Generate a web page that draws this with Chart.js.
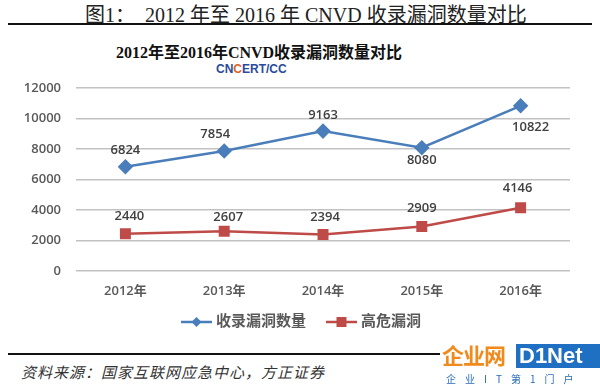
<!DOCTYPE html>
<html>
<head>
<meta charset="utf-8">
<script src="https://cdn.jsdelivr.net/npm/chart.js@4"></script>
<style>
  html, body { margin: 0; padding: 0; background: #fff; }
  #page { position: relative; width: 600px; height: 385px; overflow: hidden; }
  .abs { position: absolute; white-space: nowrap; }
  #head { left: 85px; top: -1px; font: 20px "Liberation Serif", "Noto Sans CJK SC", serif; color: #222; }
  #headLine { left: 8px; top: 23px; width: 584px; height: 2px; background: #111; }
  #title { left: 0; width: 518px; text-align: center; top: 39px; font: bold 16px "Liberation Serif", "Noto Sans CJK SC", serif; color: #111; }
  #logo { left: 216px; top: 62px; font: bold 12px "Liberation Sans", sans-serif; color: #2b4a9b; }
  #logo span { color: #e2631f; }
  #footLine { left: 8px; top: 353px; width: 584px; height: 2px; background: #111; }
  #source { left: 21px; top: 361px; font: italic 15px "Noto Sans CJK SC", sans-serif; color: #333; letter-spacing: 1px; }
  #wm { left: 440px; top: 340px; height: 31px; width: 160px; background: #fff; }
  #wm1 { left: 442px; top: 338px; font: bold 22px "Noto Sans CJK SC", sans-serif; color: #f08a1c; letter-spacing: -1px; }
  #wm2 { left: 516px; top: 344px; width: 84px; height: 24px; background: #1f6fc2; color: #fff; font: bold 22px "Liberation Sans", sans-serif; line-height: 24px; padding-left: 3px; }
  #wm3 { left: 446px; top: 371px; font: 10px "Noto Sans CJK SC", sans-serif; color: #2a6db8; letter-spacing: 9px; }
  #chart { position: absolute; left: 0; top: 65px; }
</style>
</head>
<body>
<div id="page">
  <div class="abs" id="head">图1：&nbsp;&nbsp;2012 年至 2016 年 CNVD 收录漏洞数量对比</div>
  <div class="abs" id="headLine"></div>
  <div class="abs" id="title">2012年至2016年CNVD收录漏洞数量对比</div>
  <div class="abs" id="logo">CN<span>C</span>ERT/CC</div>
  <canvas id="chart" width="600" height="280"></canvas>
  <div class="abs" id="footLine"></div>
  <div class="abs" id="source">资料来源：国家互联网应急中心，方正证券</div>
  <div class="abs" id="wm"></div>
  <div class="abs" id="wm1">企业网</div>
  <div class="abs" id="wm2">D1Net</div>
  <div class="abs" id="wm3">企业IT第1门户</div>
</div>
<script>
const years = ['2012年', '2013年', '2014年', '2015年', '2016年'];
const totalVulns = [6824, 7854, 9163, 8080, 10822];
const highRisk = [2440, 2607, 2394, 2909, 4146];
const seriesNames = ['收录漏洞数量', '高危漏洞'];
const yTicks = [0, 2000, 4000, 6000, 8000, 10000, 12000];

const blue = '#4a7ebb';
const red = '#be4b48';
const axisFont = '"Open Sans", "Noto Sans CJK SC", sans-serif';

// label offsets (dx, dy) relative to each point
const labelOffsets = [
    [[0, -17], [-9, -17], [0, -16], [0, 13], [10, 22]],
    [[4, -17], [4, -14], [2, -17], [0, -18], [-3, -19]]
];

const pointLabels = {
    id: 'pointLabels',
    afterDatasetsDraw(chart) {
        const ctx = chart.ctx;
        ctx.save();
        ctx.font = '600 13px ' + axisFont;
        ctx.fillStyle = '#404040';
        ctx.textAlign = 'center';
        ctx.textBaseline = 'middle';
        chart.data.datasets.forEach((ds, i) => {
            chart.getDatasetMeta(i).data.forEach((pt, j) => {
                const off = labelOffsets[i][j];
                ctx.fillText(String(ds.data[j]), pt.x + off[0], pt.y + off[1]);
            });
        });
        ctx.restore();
    }
};

// excel style legend: short line with marker, then the name
const lineLegend = {
    id: 'lineLegend',
    afterDraw(chart) {
        const ctx = chart.ctx;
        const y = 257, lineLen = 31, gap = 4, itemGap = 20, centerX = 301;
        ctx.save();
        ctx.font = 'bold 15px "Liberation Serif", "Noto Sans CJK SC", serif';
        ctx.textBaseline = 'middle';
        const items = chart.data.datasets.map(ds => ({ ds, w: lineLen + gap + ctx.measureText(ds.label).width }));
        const total = items.reduce((s, it) => s + it.w, 0) + itemGap * (items.length - 1);
        let x = centerX - total / 2;
        items.forEach(({ ds }) => {
            ctx.strokeStyle = ds.borderColor;
            ctx.fillStyle = ds.borderColor;
            ctx.lineWidth = 2.5;
            ctx.beginPath(); ctx.moveTo(x, y); ctx.lineTo(x + lineLen, y); ctx.stroke();
            const cx = x + lineLen / 2;
            ctx.beginPath();
            if (ds.pointStyle === 'rectRot') {
                ctx.moveTo(cx, y - 5); ctx.lineTo(cx + 5, y); ctx.lineTo(cx, y + 5); ctx.lineTo(cx - 5, y);
            } else {
                ctx.rect(cx - 5, y - 5, 10, 10);
            }
            ctx.closePath(); ctx.fill();
            ctx.fillStyle = '#595959';
            ctx.fillText(ds.label, x + lineLen + gap, y);
            x += lineLen + gap + ctx.measureText(ds.label).width + itemGap;
        });
        ctx.restore();
    }
};

new Chart(document.getElementById('chart'), {
    type: 'line',
    data: {
        labels: years,
        datasets: [{
            label: seriesNames[0],
            data: totalVulns,
            borderColor: blue,
            backgroundColor: blue,
            borderWidth: 2.5,
            pointStyle: 'rectRot',
            pointRadius: 6,
            pointHoverRadius: 6,
            tension: 0
        }, {
            label: seriesNames[1],
            data: highRisk,
            borderColor: red,
            backgroundColor: red,
            borderWidth: 2.5,
            pointStyle: 'rect',
            pointRadius: 6,
            pointHoverRadius: 6,
            tension: 0
        }]
    },
    options: {
        responsive: false,
        devicePixelRatio: 1,
        animation: false,
        layout: { padding: { top: 3, left: 0, right: 30, bottom: 34 } },
        plugins: {
            title: { display: false },
            tooltip: { enabled: false },
            legend: { display: false }
        },
        scales: {
            x: {
                offset: true,
                afterFit(scale) { scale.height = 40; },
                grid: { display: false, drawTicks: false },
                border: { display: false },
                ticks: {
                    padding: 12,
                    color: '#595959',
                    font: { family: axisFont, size: 13, weight: '600' }
                }
            },
            y: {
                min: 0,
                max: 12000,
                afterBuildTicks(scale) { scale.ticks = yTicks.map(v => ({ value: v })); },
                afterFit(scale) { scale.width = 76; },
                grid: { color: '#c2c2c2', lineWidth: 1.5, drawTicks: false },
                border: { display: false },
                ticks: {
                    padding: 15,
                    color: '#595959',
                    font: { family: axisFont, size: 13, weight: '600' },
                    callback: v => String(v)
                }
            }
        }
    },
    plugins: [pointLabels, lineLegend]
});
</script>
</body>
</html>
